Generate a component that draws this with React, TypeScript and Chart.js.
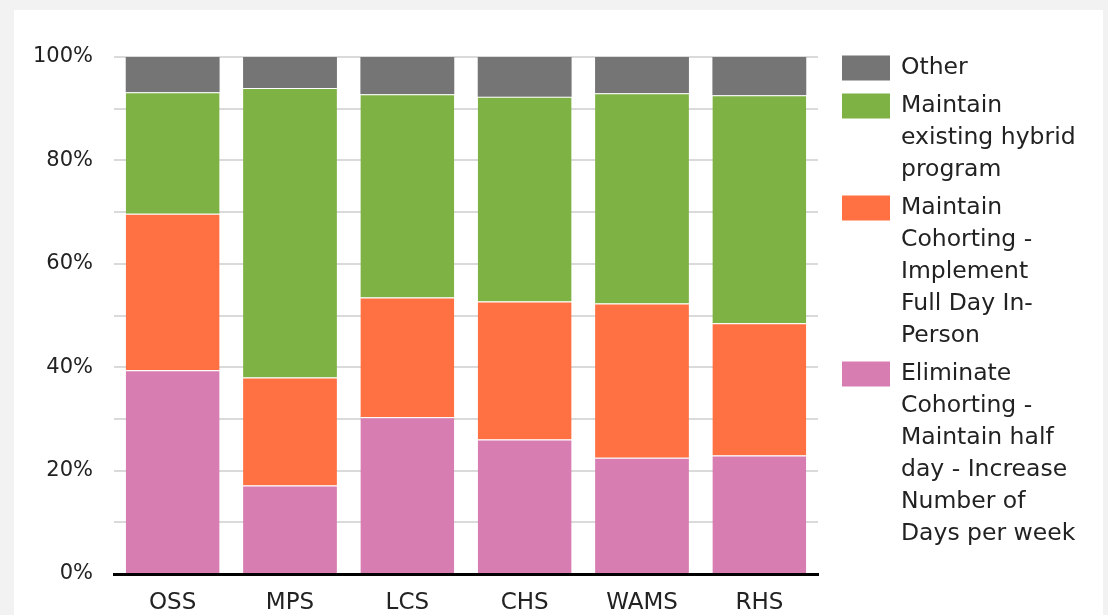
import React, { useEffect, useRef } from "react";
import { Chart, registerables } from "chart.js";

Chart.register(...registerables);

const categories = ["OSS", "MPS", "LCS", "CHS", "WAMS", "RHS"];
const eliminateCohorting = [39.4, 17.1, 30.3, 26.0, 22.5, 22.9];
const maintainCohorting = [30.3, 20.9, 23.2, 26.7, 29.8, 25.6];
const maintainHybrid = [23.5, 56.0, 39.3, 39.6, 40.7, 44.1];
const other = [6.8, 6.0, 7.2, 7.7, 7.0, 7.4];

const seriesLabels = [
  "Eliminate Cohorting - Maintain half day - Increase Number of Days per week",
  "Maintain Cohorting - Implement Full Day In-Person",
  "Maintain existing hybrid program",
  "Other",
];
const seriesColors = ["#D87DB1", "#FF7043", "#7FB244", "#757575"];

// legend lines, in legend order (top to bottom)
const legendLines: string[][] = [
  ["Other"],
  ["Maintain", "existing hybrid", "program"],
  ["Maintain", "Cohorting -", "Implement", "Full Day In-", "Person"],
  ["Eliminate", "Cohorting -", "Maintain half", "day - Increase", "Number of", "Days per week"],
];
const legendColors = ["#757575", "#7FB244", "#FF7043", "#D87DB1"];

const yTicks = [0, 20, 40, 60, 80, 100];

const FONT = "'DejaVu Sans', sans-serif";
const TEXT = "#222222";

export default function App() {
  const ref = useRef<HTMLCanvasElement | null>(null);

  useEffect(() => {
    document.body.style.margin = "0";
    document.body.style.background = "#f2f2f2";
    if (!ref.current) return;

    const legendPlugin = {
      id: "customLegend",
      afterDraw(chart: any) {
        const ctx = chart.ctx;
        ctx.save();
        ctx.font = `23.5px ${FONT}`;
        ctx.fillStyle = TEXT;
        ctx.textBaseline = "middle";
        ctx.textAlign = "left";
        let y = 58;
        legendLines.forEach((lines, i) => {
          ctx.fillStyle = legendColors[i];
          ctx.fillRect(828, y - 12.5, 48, 25);
          ctx.fillStyle = TEXT;
          lines.forEach((ln, j) => {
            ctx.fillText(ln, 887, y + j * 32);
          });
          y += lines.length * 32 + 6;
        });
        ctx.restore();
      },
    };

    const data = [eliminateCohorting, maintainCohorting, maintainHybrid, other];

    const chart = new Chart(ref.current, {
      type: "bar",
      data: {
        labels: categories,
        datasets: data.map((d, i) => ({
          label: seriesLabels[i],
          data: d,
          backgroundColor: seriesColors[i],
          borderColor: "#ffffff",
          borderWidth: i === 3 ? 0 : { top: 1, bottom: 0, left: 0, right: 0 },
          borderSkipped: false,
          categoryPercentage: 0.8,
          barPercentage: 1.0,
        })),
      },
      options: {
        animation: false,
        responsive: false,
        maintainAspectRatio: false,
        layout: { padding: { top: 47, right: 285, left: 0, bottom: 0 } },
        plugins: {
          legend: { display: false },
          tooltip: { enabled: false },
        },
        scales: {
          x: {
            stacked: true,
            grid: { display: false, drawTicks: false },
            border: { display: true, color: "#000000", width: 3 },
            ticks: {
              color: TEXT,
              font: { family: FONT, size: 23 },
              padding: 15,
              maxRotation: 0,
            },
            afterFit(scale: any) {
              scale.height = 41;
            },
          },
          y: {
            stacked: true,
            min: 0,
            max: 100,
            grid: {
              drawTicks: false,
              lineWidth: 2,
              color: (c: any) => (c.tick && c.tick.value === 0 ? "rgba(0,0,0,0)" : "#dadada"),
            },
            border: { display: false },
            ticks: {
              stepSize: 10,
              color: TEXT,
              font: { family: FONT, size: 21 },
              padding: 21,
              callback: (v: any) => (yTicks.includes(Number(v)) ? `${v}%` : ""),
            },
            afterFit(scale: any) {
              scale.width = 100;
            },
          },
        },
      },
      plugins: [legendPlugin],
    });

    return () => chart.destroy();
  }, []);

  return (
    <div style={{ position: "relative", width: 1108, height: 615, background: "#f2f2f2", overflow: "hidden" }}>
      <div style={{ position: "absolute", left: 14, top: 10, width: 1089, height: 605, background: "#ffffff" }}>
        <canvas ref={ref} width={1089} height={605} style={{ display: "block", width: 1089, height: 605 }} />
      </div>
    </div>
  );
}
